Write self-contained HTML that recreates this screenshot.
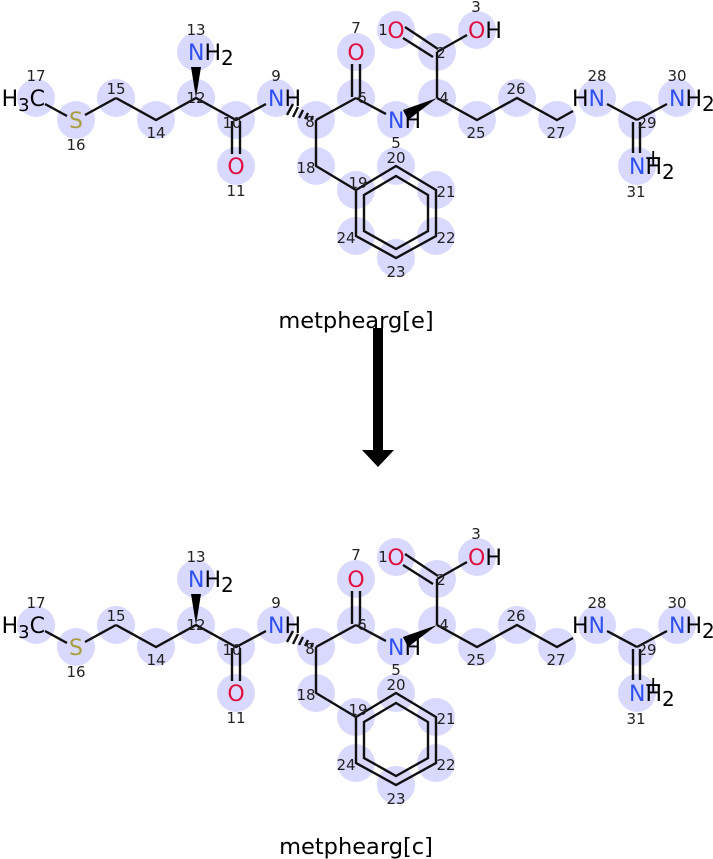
<!DOCTYPE html>
<html><head><meta charset="utf-8"><style>
html,body{margin:0;padding:0;background:#fff;}
svg{display:block;}
.a{font-family:"DejaVu Sans","Liberation Sans",sans-serif;font-size:22px;}
.n{font-family:"DejaVu Sans","Liberation Sans",sans-serif;font-size:15px;fill:#222;}
.N{fill:#3050F0}.O{fill:#E0103F}.S{fill:#A89E40}.K{fill:#000}
line,polyline,polygon.r{stroke:#111;stroke-width:2.4;fill:none;}
</style></head><body>
<svg width="713" height="859" viewBox="0 0 713 859" xmlns="http://www.w3.org/2000/svg">
<g>
<g fill="#d9d9ff">
<circle cx="36" cy="98" r="19"/><circle cx="76" cy="120" r="19"/><circle cx="116" cy="98" r="19"/><circle cx="156" cy="120" r="19"/>
<circle cx="196" cy="98" r="19"/><circle cx="196" cy="52" r="19"/><circle cx="236" cy="120" r="19"/><circle cx="236" cy="166" r="19"/>
<circle cx="276" cy="98" r="19"/><circle cx="316" cy="120" r="19"/><circle cx="356" cy="98" r="19"/><circle cx="356" cy="52" r="19"/>
<circle cx="316" cy="166" r="19"/><circle cx="356" cy="190" r="19"/><circle cx="396" cy="166" r="19"/><circle cx="436" cy="190" r="19"/>
<circle cx="436" cy="236" r="19"/><circle cx="396" cy="258" r="19"/><circle cx="356" cy="236" r="19"/>
<circle cx="396" cy="30" r="19"/><circle cx="437" cy="52" r="19"/><circle cx="477" cy="30" r="19"/><circle cx="437" cy="98" r="19"/>
<circle cx="396" cy="120" r="19"/><circle cx="477" cy="120" r="19"/><circle cx="517" cy="98" r="19"/><circle cx="557" cy="120" r="19"/>
<circle cx="597" cy="98" r="19"/><circle cx="637" cy="120" r="19"/><circle cx="677" cy="98" r="19"/><circle cx="637" cy="166" r="19"/>
</g>
<line x1="45" y1="104" x2="67" y2="116"/>
<line x1="85" y1="115" x2="116" y2="98"/>
<polyline points="116,98 156,120 196,98 236,120 266,104"/>
<line x1="232" y1="121" x2="232" y2="154"/><line x1="240" y1="121" x2="240" y2="154"/>
<polygon points="196,98 191,67 201,67" fill="#000"/>
<g stroke="#111" stroke-width="1.8">
<line x1="313" y1="116" x2="311" y2="120"/><line x1="308" y1="113" x2="305" y2="119"/>
<line x1="303" y1="110" x2="299" y2="118"/><line x1="298" y1="107" x2="293" y2="117"/>
<line x1="293" y1="104" x2="287" y2="115"/>
</g>
<line x1="316" y1="120" x2="356" y2="98"/>
<line x1="352" y1="97" x2="352" y2="64"/><line x1="360" y1="97" x2="360" y2="64"/>
<line x1="356" y1="98" x2="386" y2="114"/>
<polyline points="316,120 316,166 356,190"/>
<polygon class="r" points="356,190 396,166 436,190 436,236 396,258 356,236"/>
<polygon class="r" points="364,195 396,176 428,195 428,231 396,249 364,231"/>
<polygon points="437,98 403,110 408,120" fill="#000"/>
<line x1="437" y1="98" x2="437" y2="52"/>
<line x1="405" y1="27" x2="438" y2="49"/><line x1="403" y1="38" x2="433" y2="57"/>
<line x1="437" y1="52" x2="467" y2="35"/>
<polyline points="437,98 477,120 517,98 557,120 573,111"/>
<line x1="607" y1="104" x2="637" y2="120"/><line x1="637" y1="120" x2="667" y2="104"/>
<line x1="633" y1="122" x2="633" y2="153"/><line x1="640" y1="122" x2="640" y2="153"/>
<text class="a K" x="45" y="106" text-anchor="end">H<tspan dy="5" font-size="18">3</tspan><tspan dy="-5">C</tspan></text>
<text class="a S" x="76" y="128" text-anchor="middle">S</text>
<text class="a" x="188" y="60"><tspan class="N">N</tspan><tspan class="K">H</tspan><tspan class="K" dy="5" font-size="20">2</tspan></text>
<text class="a O" x="236" y="174" text-anchor="middle">O</text>
<text class="a" x="268" y="106"><tspan class="N">N</tspan><tspan class="K">H</tspan></text>
<text class="a O" x="356" y="60" text-anchor="middle">O</text>
<text class="a O" x="396" y="38" text-anchor="middle">O</text>
<text class="a" x="468" y="38"><tspan class="O">O</tspan><tspan class="K">H</tspan></text>
<text class="a" x="388" y="128"><tspan class="N">N</tspan><tspan class="K">H</tspan></text>
<text class="a" x="572" y="106"><tspan class="K">H</tspan><tspan class="N">N</tspan></text>
<text class="a" x="669" y="106"><tspan class="N">N</tspan><tspan class="K">H</tspan><tspan class="K" dy="5" font-size="20">2</tspan></text>
<text class="a" x="629" y="174"><tspan class="N">N</tspan><tspan class="K">H</tspan><tspan class="K" dy="5" font-size="20">2</tspan></text>
<text class="a K" x="644" y="165" font-size="20">+</text>
<g class="n" text-anchor="middle">
<text x="36" y="81">17</text><text x="76" y="150">16</text><text x="116" y="94">15</text><text x="156" y="138">14</text>
<text x="196" y="103">12</text><text x="196" y="35">13</text><text x="232" y="128">10</text><text x="236" y="196">11</text>
<text x="276" y="81">9</text><text x="310" y="127">8</text><text x="356" y="33">7</text><text x="362" y="103">6</text>
<text x="306" y="173">18</text><text x="358" y="188">19</text><text x="396" y="163">20</text><text x="446" y="197">21</text>
<text x="446" y="243">22</text><text x="396" y="277">23</text><text x="346" y="243">24</text>
<text x="383" y="35">1</text><text x="441" y="58">2</text><text x="476" y="12">3</text><text x="444" y="103">4</text>
<text x="396" y="148">5</text><text x="476" y="138">25</text><text x="516" y="94">26</text><text x="556" y="138">27</text>
<text x="597" y="81">28</text><text x="647" y="128">29</text><text x="677" y="81">30</text><text x="636" y="197">31</text>
</g>
</g>
<g transform="translate(0,527)">
<g fill="#d9d9ff">
<circle cx="36" cy="98" r="19"/><circle cx="76" cy="120" r="19"/><circle cx="116" cy="98" r="19"/><circle cx="156" cy="120" r="19"/>
<circle cx="196" cy="98" r="19"/><circle cx="196" cy="52" r="19"/><circle cx="236" cy="120" r="19"/><circle cx="236" cy="166" r="19"/>
<circle cx="276" cy="98" r="19"/><circle cx="316" cy="120" r="19"/><circle cx="356" cy="98" r="19"/><circle cx="356" cy="52" r="19"/>
<circle cx="316" cy="166" r="19"/><circle cx="356" cy="190" r="19"/><circle cx="396" cy="166" r="19"/><circle cx="436" cy="190" r="19"/>
<circle cx="436" cy="236" r="19"/><circle cx="396" cy="258" r="19"/><circle cx="356" cy="236" r="19"/>
<circle cx="396" cy="30" r="19"/><circle cx="437" cy="52" r="19"/><circle cx="477" cy="30" r="19"/><circle cx="437" cy="98" r="19"/>
<circle cx="396" cy="120" r="19"/><circle cx="477" cy="120" r="19"/><circle cx="517" cy="98" r="19"/><circle cx="557" cy="120" r="19"/>
<circle cx="597" cy="98" r="19"/><circle cx="637" cy="120" r="19"/><circle cx="677" cy="98" r="19"/><circle cx="637" cy="166" r="19"/>
</g>
<line x1="45" y1="104" x2="67" y2="116"/>
<line x1="85" y1="115" x2="116" y2="98"/>
<polyline points="116,98 156,120 196,98 236,120 266,104"/>
<line x1="232" y1="121" x2="232" y2="154"/><line x1="240" y1="121" x2="240" y2="154"/>
<polygon points="196,98 191,67 201,67" fill="#000"/>
<g stroke="#111" stroke-width="1.8">
<line x1="313" y1="116" x2="311" y2="120"/><line x1="308" y1="113" x2="305" y2="119"/>
<line x1="303" y1="110" x2="299" y2="118"/><line x1="298" y1="107" x2="293" y2="117"/>
<line x1="293" y1="104" x2="287" y2="115"/>
</g>
<line x1="316" y1="120" x2="356" y2="98"/>
<line x1="352" y1="97" x2="352" y2="64"/><line x1="360" y1="97" x2="360" y2="64"/>
<line x1="356" y1="98" x2="386" y2="114"/>
<polyline points="316,120 316,166 356,190"/>
<polygon class="r" points="356,190 396,166 436,190 436,236 396,258 356,236"/>
<polygon class="r" points="364,195 396,176 428,195 428,231 396,249 364,231"/>
<polygon points="437,98 403,110 408,120" fill="#000"/>
<line x1="437" y1="98" x2="437" y2="52"/>
<line x1="405" y1="27" x2="438" y2="49"/><line x1="403" y1="38" x2="433" y2="57"/>
<line x1="437" y1="52" x2="467" y2="35"/>
<polyline points="437,98 477,120 517,98 557,120 573,111"/>
<line x1="607" y1="104" x2="637" y2="120"/><line x1="637" y1="120" x2="667" y2="104"/>
<line x1="633" y1="122" x2="633" y2="153"/><line x1="640" y1="122" x2="640" y2="153"/>
<text class="a K" x="45" y="106" text-anchor="end">H<tspan dy="5" font-size="18">3</tspan><tspan dy="-5">C</tspan></text>
<text class="a S" x="76" y="128" text-anchor="middle">S</text>
<text class="a" x="188" y="60"><tspan class="N">N</tspan><tspan class="K">H</tspan><tspan class="K" dy="5" font-size="20">2</tspan></text>
<text class="a O" x="236" y="174" text-anchor="middle">O</text>
<text class="a" x="268" y="106"><tspan class="N">N</tspan><tspan class="K">H</tspan></text>
<text class="a O" x="356" y="60" text-anchor="middle">O</text>
<text class="a O" x="396" y="38" text-anchor="middle">O</text>
<text class="a" x="468" y="38"><tspan class="O">O</tspan><tspan class="K">H</tspan></text>
<text class="a" x="388" y="128"><tspan class="N">N</tspan><tspan class="K">H</tspan></text>
<text class="a" x="572" y="106"><tspan class="K">H</tspan><tspan class="N">N</tspan></text>
<text class="a" x="669" y="106"><tspan class="N">N</tspan><tspan class="K">H</tspan><tspan class="K" dy="5" font-size="20">2</tspan></text>
<text class="a" x="629" y="174"><tspan class="N">N</tspan><tspan class="K">H</tspan><tspan class="K" dy="5" font-size="20">2</tspan></text>
<text class="a K" x="644" y="165" font-size="20">+</text>
<g class="n" text-anchor="middle">
<text x="36" y="81">17</text><text x="76" y="150">16</text><text x="116" y="94">15</text><text x="156" y="138">14</text>
<text x="196" y="103">12</text><text x="196" y="35">13</text><text x="232" y="128">10</text><text x="236" y="196">11</text>
<text x="276" y="81">9</text><text x="310" y="127">8</text><text x="356" y="33">7</text><text x="362" y="103">6</text>
<text x="306" y="173">18</text><text x="358" y="188">19</text><text x="396" y="163">20</text><text x="446" y="197">21</text>
<text x="446" y="243">22</text><text x="396" y="277">23</text><text x="346" y="243">24</text>
<text x="383" y="35">1</text><text x="441" y="58">2</text><text x="476" y="12">3</text><text x="444" y="103">4</text>
<text x="396" y="148">5</text><text x="476" y="138">25</text><text x="516" y="94">26</text><text x="556" y="138">27</text>
<text x="597" y="81">28</text><text x="647" y="128">29</text><text x="677" y="81">30</text><text x="636" y="197">31</text>
</g>
</g>
<text x="356" y="328" text-anchor="middle" style="font-family:'DejaVu Sans','Liberation Sans',sans-serif;font-size:22.5px;fill:#000">metphearg[e]</text>
<rect x="373" y="328" width="10" height="123" fill="#000"/>
<polygon points="362,450 394,450 378,467" fill="#000"/>
<text x="356" y="854" text-anchor="middle" style="font-family:'DejaVu Sans','Liberation Sans',sans-serif;font-size:22.5px;fill:#000">metphearg[c]</text>
</svg>
</body></html>
